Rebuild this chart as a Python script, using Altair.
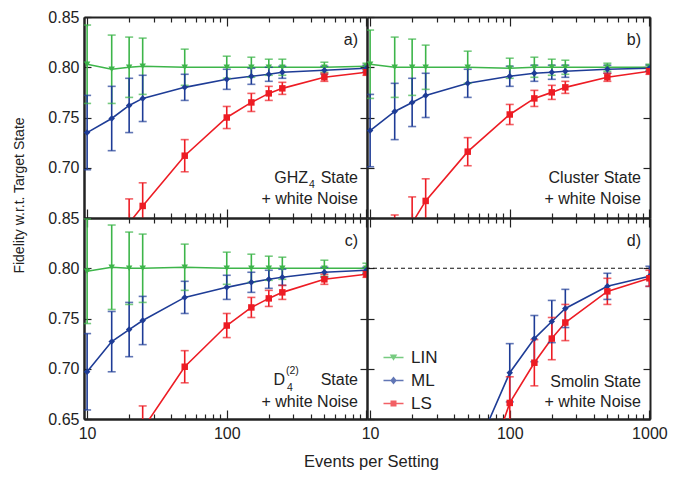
import altair as alt
import pandas as pd

# ---------------- data ----------------
events = [10, 15, 20, 25, 50, 100, 150, 200, 250, 500, 1000]
events_d = [50, 100, 150, 200, 250, 500, 1000]

# a) GHZ4 state
a_lin = [0.803, 0.798, 0.800, 0.801, 0.800, 0.800, 0.800, 0.800, 0.800, 0.800, 0.801]
a_lin_err = [0.039, 0.034, 0.030, 0.028, 0.018, 0.011, 0.010, 0.008, 0.008, 0.005, 0.003]
a_ml = [0.735, 0.749, 0.762, 0.769, 0.780, 0.788, 0.791, 0.793, 0.795, 0.797, 0.799]
a_ml_err = [0.037, 0.032, 0.027, 0.023, 0.013, 0.010, 0.008, 0.007, 0.006, 0.004, 0.003]
a_ls = [0.50, 0.58, 0.645, 0.662, 0.712, 0.750, 0.765, 0.774, 0.779, 0.790, 0.795]
a_ls_err = [0.05, 0.04, 0.024, 0.023, 0.016, 0.011, 0.009, 0.007, 0.006, 0.004, 0.003]

# b) Cluster state
b_lin = [0.803, 0.800, 0.800, 0.800, 0.800, 0.799, 0.800, 0.800, 0.800, 0.800, 0.800]
b_lin_err = [0.034, 0.030, 0.028, 0.022, 0.016, 0.010, 0.010, 0.008, 0.007, 0.004, 0.003]
b_ml = [0.737, 0.756, 0.765, 0.772, 0.784, 0.791, 0.794, 0.795, 0.796, 0.798, 0.799]
b_ml_err = [0.036, 0.028, 0.024, 0.022, 0.014, 0.010, 0.008, 0.007, 0.006, 0.004, 0.003]
b_ls = [0.50, 0.603, 0.645, 0.667, 0.716, 0.753, 0.769, 0.775, 0.780, 0.790, 0.796]
b_ls_err = [0.05, 0.05, 0.026, 0.022, 0.014, 0.010, 0.008, 0.007, 0.006, 0.004, 0.003]

# c) D4(2) state
c_lin = [0.797, 0.801, 0.800, 0.800, 0.801, 0.800, 0.800, 0.800, 0.800, 0.800, 0.800]
c_lin_err = [0.052, 0.042, 0.036, 0.034, 0.023, 0.016, 0.014, 0.012, 0.011, 0.008, 0.005]
c_ml = [0.697, 0.727, 0.739, 0.748, 0.771, 0.781, 0.786, 0.789, 0.791, 0.796, 0.798]
c_ml_err = [0.038, 0.030, 0.027, 0.024, 0.016, 0.012, 0.010, 0.009, 0.008, 0.005, 0.003]
c_ls = [0.46, 0.53, 0.59, 0.640, 0.702, 0.743, 0.761, 0.770, 0.776, 0.789, 0.794]
c_ls_err = [0.05, 0.04, 0.03, 0.023, 0.016, 0.012, 0.010, 0.008, 0.007, 0.005, 0.003]

# d) Smolin state
d_ml = [0.600, 0.696, 0.730, 0.747, 0.760, 0.782, 0.792]
d_ml_err = [0.040, 0.029, 0.023, 0.021, 0.019, 0.013, 0.010]
d_ls = [0.545, 0.666, 0.706, 0.730, 0.746, 0.777, 0.790]
d_ls_err = [0.040, 0.026, 0.023, 0.021, 0.018, 0.013, 0.008]

target_fidelity = 0.80

methods = ["LIN", "ML", "LS"]
colors = ["#3DB54A", "#1E3C96", "#ED1C24"]
shapes = ["triangle-down", "diamond", "square"]
# legend glyphs: marker with a short line through it (filled paths)
legend_shapes = ["M-2,-0.16H2V0.16H-2ZM-0.75,-0.6H0.75L0,0.65Z",
                 "M-2,-0.16H2V0.16H-2ZM0,-0.8L0.65,0L0,0.8L-0.65,0Z",
                 "M-2,-0.16H2V0.16H-2ZM-0.6,-0.6H0.6V0.6H-0.6Z"]

x_ticks = [10, 20, 30, 40, 50, 60, 70, 80, 90, 100, 200, 300, 400, 500, 600, 700, 800, 900, 1000]
y_ticks = [0.65, 0.70, 0.75, 0.80, 0.85]

rows = []


def add(panel, method, xs, ys, es):
    for x, y, e in zip(xs, ys, es):
        rows.append(dict(panel=panel, method=method, events=x, fidelity=y, lo=y - e, hi=y + e))


add("a", "LIN", events, a_lin, a_lin_err)
add("a", "ML", events, a_ml, a_ml_err)
add("a", "LS", events, a_ls, a_ls_err)
add("b", "LIN", events, b_lin, b_lin_err)
add("b", "ML", events, b_ml, b_ml_err)
add("b", "LS", events, b_ls, b_ls_err)
add("c", "LIN", events, c_lin, c_lin_err)
add("c", "ML", events, c_ml, c_ml_err)
add("c", "LS", events, c_ls, c_ls_err)
add("d", "ML", events_d, d_ml, d_ml_err)
add("d", "LS", events_d, d_ls, d_ls_err)
df = pd.DataFrame(rows)

# ---------------- styling ----------------
FONT = "Liberation Sans"
TXT = "#222222"
W, H = 283, 201
LW = 1.6

xscale = alt.Scale(type="log", domain=[9.5, 1010], nice=False)
yscale = alt.Scale(domain=[0.65, 0.85], nice=False, zero=False)
cscale = alt.Scale(domain=methods, range=colors)
lscale = alt.Scale(domain=methods, range=legend_shapes)

MAJOR = "indexof([10, 100, 1000], datum.value) >= 0"
xtick = {"expr": f"{MAJOR} ? -9 : -5"}
ytick = {"expr": "-7"}
FRAME = dict(domain=True, domainColor=TXT, domainWidth=2, grid=False)


def tick_axis(orient, vals, size):
    # unlabeled axis that only draws the frame side and inward ticks
    return alt.Axis(orient=orient, values=vals, labels=False, title=None, tickSize=size,
                    tickColor=TXT, tickWidth=1.2, **FRAME)


def x_axis(mode):
    if mode == "none":
        return None
    if mode == "left":
        expr = "datum.value == 10 || datum.value == 100 ? format(datum.value, 'd') : ''"
        kw = dict(title="Events per Setting", titleX=287, titleY=42, titleAlign="center",
                  titleBaseline="middle", titleFontSize=16.5, titleFontWeight="normal",
                  titleFont=FONT, titleColor=TXT)
    else:
        expr = f"{MAJOR} ? format(datum.value, 'd') : ''"
        kw = dict(title=None)
    return alt.Axis(orient="bottom", values=x_ticks, labelExpr=expr, ticks=False, labelFontSize=16,
                    labelFont=FONT, labelColor=TXT, labelPadding=6, labelOverlap=False,
                    labelFlush=False, labelBound=False, **FRAME, **kw)


def y_axis(mode):
    if mode == "none":
        return None
    if mode == "top":
        expr = "datum.value > 0.66 ? format(datum.value, '.2f') : ''"
        kw = dict(title="Fidelity w.r.t. Target State", titleX=-65, titleY=178, titleAngle=270,
                  titleAlign="center", titleBaseline="middle", titleFontSize=14,
                  titleFontWeight="normal", titleFont=FONT, titleColor=TXT)
    else:
        expr = "format(datum.value, '.2f')"
        kw = dict(title=None)
    return alt.Axis(orient="left", values=y_ticks, labelExpr=expr, ticks=False, labelFontSize=16,
                    labelFont=FONT, labelColor=TXT, labelPadding=5, labelOverlap=False,
                    labelFlush=False, labelBound=False, **FRAME, **kw)


dummy = pd.DataFrame({"k": [0]})


def label(txt, x, y, size=16, align="right"):
    return alt.Chart(dummy).mark_text(text=txt, align=align, baseline="alphabetic", fontSize=size,
                                      font=FONT, color=TXT).encode(x=alt.value(x), y=alt.value(y))


def panel(key, xmode, ymode, texts, legend=False, ref=False):
    d = df[df.panel == key]
    leg = None
    if legend:
        leg = alt.Legend(title=None, orient="none", legendX=18, legendY=131, labelFontSize=17,
                         labelFont=FONT, labelColor=TXT, symbolSize=100, rowPadding=5, padding=0,
                         labelOffset=9, symbolStrokeWidth=0)
    col = alt.Color("method:N", scale=cscale, legend=leg)
    Xn = alt.X("events:Q", scale=xscale, axis=None)

    def Y(f):
        return alt.Y(f, type="quantitative", scale=yscale, axis=None)

    base = alt.Chart(d)
    layers = []
    if ref:
        layers.append(alt.Chart(dummy).mark_rule(color="#111111", strokeDash=[4, 3], strokeWidth=1.2).encode(
            y=alt.datum(target_fidelity, scale=yscale, axis=None)))
    layers += [
        base.mark_line(clip=True, strokeWidth=LW).encode(x=Xn, y=Y("fidelity"), color=col),
        base.mark_rule(clip=True, strokeWidth=LW).encode(x=Xn, y=Y("lo"), y2="hi:Q", color=col),
        base.mark_tick(clip=True, orient="horizontal", size=8, thickness=LW).encode(
            x=Xn, y=Y("lo"), color=col),
        base.mark_tick(clip=True, orient="horizontal", size=8, thickness=LW).encode(
            x=Xn, y=Y("hi"), color=col),
    ]
    for m, s in zip(methods, shapes):
        layers.append(base.transform_filter(alt.datum.method == m).mark_point(
            clip=True, filled=True, size=42, opacity=1, shape=s).encode(x=Xn, y=Y("fidelity"), color=col))
    if legend:
        layers.append(base.transform_filter("false").mark_point(clip=True, filled=True, size=100).encode(
            x=Xn, y=Y("fidelity"), color=col,
            shape=alt.Shape("method:N", scale=lscale, legend=leg)))
    inner = alt.layer(*layers)

    # axes: labelled left/bottom (no ticks) + tick-only axes on all four sides
    ax_main = base.mark_point(clip=True, opacity=0).encode(
        x=alt.X("events:Q", scale=xscale, axis=x_axis(xmode)),
        y=alt.Y("fidelity:Q", scale=yscale, axis=y_axis(ymode)))
    ax_bl = base.mark_point(clip=True, opacity=0).encode(
        x=alt.X("events:Q", scale=xscale, axis=tick_axis("bottom", x_ticks, xtick)),
        y=alt.Y("fidelity:Q", scale=yscale, axis=tick_axis("left", y_ticks, ytick)))
    ax_tr = base.mark_point(clip=True, opacity=0).encode(
        x=alt.X("events:Q", scale=xscale, axis=tick_axis("top", x_ticks, xtick)),
        y=alt.Y("fidelity:Q", scale=yscale, axis=tick_axis("right", y_ticks, ytick)))
    txt = [label(*t) for t in texts]
    return alt.layer(inner, ax_main, ax_bl, ax_tr, *txt).resolve_axis(
        x="independent", y="independent").properties(width=W, height=H)


pa = panel("a", "none", "top", [("a)", W - 9, 28), ("GHZ", 224, 166), ("4", 225, 171, 10.5, "left"),
                                ("State", W - 9, 166), ("+ white Noise", W - 9, 187)])
pb = panel("b", "none", "none", [("b)", W - 9, 28), ("Cluster State", W - 9, 166),
                                 ("+ white Noise", W - 9, 187)])
pc = panel("c", "left", "bottom", [("c)", W - 9, 28), ("D", 201, 167), ("(2)", 202, 156, 10.5, "left"),
                                   ("4", 203, 173, 10.5, "left"), ("State", W - 9, 167),
                                   ("+ white Noise", W - 9, 189)])
pd_ = panel("d", "right", "none", [("d)", W - 9, 28), ("Smolin State", W - 9, 169),
                                   ("+ white Noise", W - 9, 189)], legend=True, ref=True)

chart = alt.concat(pa, pb, pc, pd_, columns=2, spacing=0, bounds="flush").resolve_scale(
    color="independent", shape="independent").properties(
    padding={"left": 3, "top": 0, "right": 2, "bottom": 0}
).configure_view(stroke=None).configure(font=FONT)

chart.save("out.html", embed_options={"renderer": "svg", "actions": False})
